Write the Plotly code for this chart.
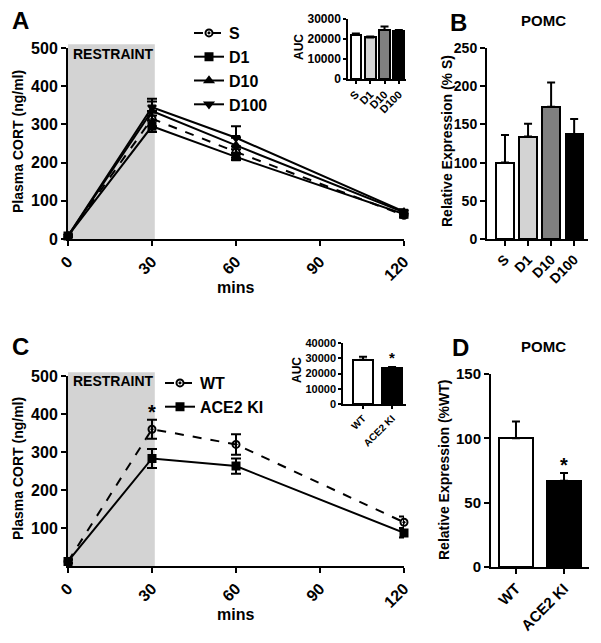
import plotly.graph_objects as go

# ---- data ----
mins = [0, 30, 60, 120]

# panel A - restraint time course
s_cort = [8, 315, 228, 62]
s_err = [3, 20, 15, 6]
d1_cort = [8, 295, 215, 65]
d1_err = [3, 15, 8, 6]
d10_cort = [8, 335, 245, 70]
d10_err = [3, 25, 20, 6]
d100_cort = [8, 345, 265, 72]
d100_err = [3, 22, 30, 6]

# panel A inset - AUC
groups_a = ["S", "D1", "D10", "D100"]
auc_a = [22000, 20800, 24500, 23800]
auc_a_err = [700, 500, 1800, 700]

# panel B - POMC
pomc_b = [100, 134, 173, 137]
pomc_b_err = [36, 17, 32, 20]

# panel C - WT vs ACE2 KI time course
wt_cort = [12, 360, 320, 115]
wt_err = [5, 25, 27, 15]
ki_cort = [12, 283, 263, 87]
ki_err = [5, 25, 20, 12]

# panel C inset - AUC
groups_c = ["WT", "ACE2 KI"]
auc_c = [29000, 23500]
auc_c_err = [2000, 800]

# panel D - POMC
pomc_d = [100, 67]
pomc_d_err = [13, 6]

bar_colors_a = ["white", "#d3d3d3", "#808080", "black"]
bar_colors_c = ["white", "black"]

# page body has an 8px margin, so the figure is drawn 8px in from the window edge
PAD = 8
W, H = 601 - PAD, 643 - PAD
FONT = "Liberation Sans"


def dx(a, b):
    return [(a - PAD) / W, (b - PAD) / W]


def dy(top, bottom):
    return [1 - (bottom - PAD) / H, 1 - (top - PAD) / H]


def bold(size):
    return dict(family=FONT, size=size, color="black", weight="bold")


def axis(domain, rng, size=16, **kw):
    d = dict(domain=domain, range=rng, showline=True, linecolor="black",
             linewidth=2, ticks="outside", ticklen=5, tickwidth=2,
             tickcolor="black", showgrid=False, zeroline=False,
             automargin=False, tickformat="d", tickfont=bold(size))
    d.update(kw)
    return d


fig = go.Figure()


def line_trace(y, err, name, symbol, dash, xa, ya, legend):
    return go.Scatter(
        x=mins, y=y, name=name, mode="lines+markers",
        line=dict(color="black", width=2, dash=dash),
        marker=dict(symbol=symbol, size=7, color="black",
                    line=dict(color="black", width=2)),
        error_y=dict(type="data", array=err, color="black", thickness=2, width=5),
        xaxis=xa, yaxis=ya, legend=legend, cliponaxis=False,
    )


# ---- panel A ----
fig.add_trace(line_trace(s_cort, s_err, "S", "circle-open-dot", "dash", "x", "y", "legend"))
fig.add_trace(line_trace(d1_cort, d1_err, "D1", "square", "solid", "x", "y", "legend"))
fig.add_trace(line_trace(d10_cort, d10_err, "D10", "triangle-up", "solid", "x", "y", "legend"))
fig.add_trace(line_trace(d100_cort, d100_err, "D100", "triangle-down", "solid", "x", "y", "legend"))

# ---- panel C ----
fig.add_trace(line_trace(wt_cort, wt_err, "WT", "circle-open-dot", "dash", "x4", "y4", "legend2"))
fig.add_trace(line_trace(ki_cort, ki_err, "ACE2 KI", "square", "solid", "x4", "y4", "legend2"))


def bar_trace(cats, vals, errs, colors, width, xa, ya):
    return go.Bar(
        x=cats, y=vals, width=width, showlegend=False,
        marker=dict(color=colors, line=dict(color="black", width=2)),
        error_y=dict(type="data", array=errs, arrayminus=[0] * len(errs),
                     color="black", thickness=2, width=4),
        xaxis=xa, yaxis=ya,
    )


fig.add_trace(bar_trace(groups_a, auc_a, auc_a_err, bar_colors_a, 0.75, "x2", "y2"))
fig.add_trace(bar_trace(groups_a, pomc_b, pomc_b_err, bar_colors_a, 0.75, "x3", "y3"))
fig.add_trace(bar_trace(groups_c, auc_c, auc_c_err, bar_colors_c, 0.7, "x5", "y5"))
fig.add_trace(bar_trace(groups_c, pomc_d, pomc_d_err, bar_colors_c, 0.7, "x6", "y6"))

tick_x = dict(tickvals=[0, 30, 60, 90, 120], tickangle=-45)
inset = dict(ticklen=3, linewidth=1.5, tickwidth=1.5)

fig.update_layout(
    width=W, height=H,
    margin=dict(l=0, r=0, t=0, b=0),
    paper_bgcolor="white", plot_bgcolor="rgba(0,0,0,0)",
    font=dict(family=FONT, color="black"),
    bargap=0,
    xaxis=axis(dx(68, 404), [0, 120], anchor="y", **tick_x),
    yaxis=axis(dy(48, 239), [0, 500], anchor="x", tickvals=[0, 100, 200, 300, 400, 500]),
    xaxis2=axis(dx(348, 406), [-0.55, 3.5], anchor="y2", size=11, tickangle=-45, **inset),
    yaxis2=axis(dy(19, 79), [0, 30000], anchor="x2", size=12,
                tickvals=[0, 10000, 20000, 30000], **inset),
    xaxis3=axis(dx(487, 588), [-0.78, 3.6], anchor="y3", size=14, tickangle=-45),
    yaxis3=axis(dy(48, 239), [0, 250], anchor="x3", size=14,
                tickvals=[0, 50, 100, 150, 200, 250]),
    xaxis4=axis(dx(68, 404), [0, 120], anchor="y4", **tick_x),
    yaxis4=axis(dy(376, 566), [0, 500], anchor="x4", tickvals=[100, 200, 300, 400, 500]),
    xaxis5=axis(dx(343, 406), [-0.69, 1.48], anchor="y5", size=10, tickangle=-45, **inset),
    yaxis5=axis(dy(343, 404), [0, 40000], anchor="x5", size=11,
                tickvals=[0, 10000, 20000, 30000, 40000], **inset),
    xaxis6=axis(dx(491, 589), [-0.52, 1.52], anchor="y6", size=15, tickangle=-45),
    yaxis6=axis(dy(374, 567), [0, 150], anchor="x6", size=15, tickvals=[0, 50, 100, 150]),
    legend=dict(x=(189 - PAD) / W, y=1 - (16 - PAD) / H, xanchor="left", yanchor="top",
                bgcolor="rgba(0,0,0,0)", tracegroupgap=0, font=bold(16)),
    legend2=dict(x=(160 - PAD) / W, y=1 - (366 - PAD) / H, xanchor="left", yanchor="top",
                 bgcolor="rgba(0,0,0,0)", tracegroupgap=0, font=bold(16)),
)

# restraint shading
for xr, yr in [("x", "y domain"), ("x4", "y4 domain")]:
    fig.add_shape(type="rect", xref=xr, yref=yr, x0=0, x1=31, y0=0, y1=1.02,
                  fillcolor="#d3d3d3", line=dict(width=0), layer="below")


def note(text, x, y, size=14, xanchor="center", angle=0):
    fig.add_annotation(text=text, x=(x - PAD) / W, y=1 - (y - PAD) / H,
                       xref="paper", yref="paper", showarrow=False,
                       xanchor=xanchor, yanchor="middle", textangle=angle,
                       font=bold(size))


note("RESTRAINT", 71, 54, size=14, xanchor="left")
note("RESTRAINT", 71, 381, size=14, xanchor="left")

note("A", 20, 21, size=24)
note("B", 458, 22, size=24)
note("C", 20, 346, size=24)
note("D", 460, 347, size=24)
note("POMC", 543, 20, size=15)
note("POMC", 543, 346, size=15)

note("Plasma CORT (ng/ml)", 18, 142, size=14, angle=-90)
note("Plasma CORT (ng/ml)", 18, 469, size=14, angle=-90)
note("Relative Expression (% S)", 447, 141, size=14, angle=-90)
note("Relative Expression (%WT)", 444, 470, size=14, angle=-90)
note("AUC", 299, 47, size=12, angle=-90)
note("AUC", 297, 370, size=12, angle=-90)
note("mins", 236, 287, size=16)
note("mins", 236, 614, size=16)

# significance marks
note("*", 152, 412, size=20)
note("*", 392, 357, size=15)
note("*", 564, 465, size=20)

fig.write_html("out.html")
